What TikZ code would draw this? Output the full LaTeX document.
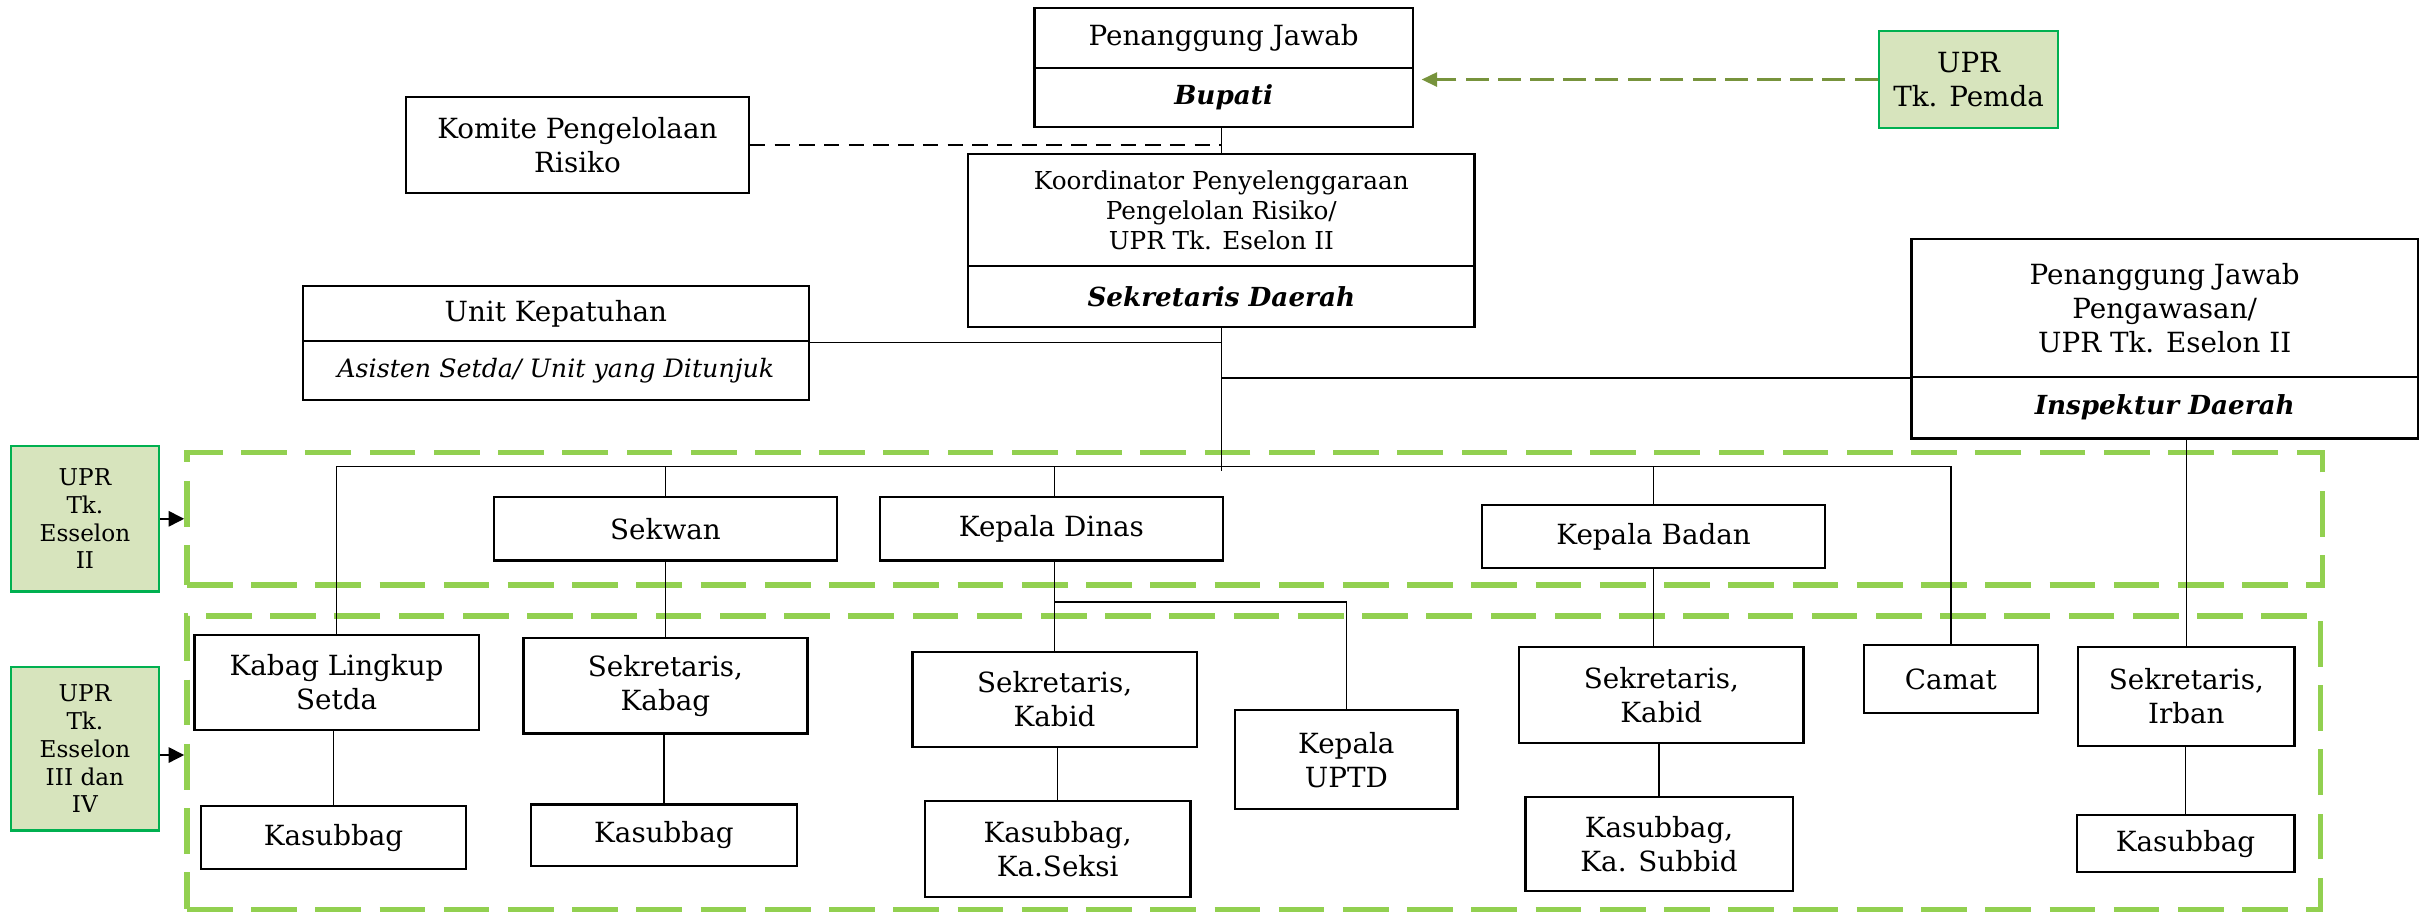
\documentclass[tikz,border=0pt]{standalone}
\usepackage{fontspec}
\setmainfont{DejaVu Serif}
\usetikzlibrary{arrows.meta}
\definecolor{uprfill}{HTML}{D7E4BD}
\definecolor{uprline}{HTML}{00B050}
\definecolor{zonegreen}{HTML}{92D050}
\definecolor{olivearrow}{HTML}{77933C}
\tikzset{
  box/.style={draw, line width=0.7pt, align=center, inner sep=0pt, font=\fontsize{9}{11}\selectfont},
  smalltxt/.style={font=\fontsize{8}{9.7}\selectfont},
  ittxt/.style={font=\fontsize{8.2}{10}\selectfont\itshape},
  bitxt/.style={font=\fontsize{8.5}{10}\selectfont\bfseries\itshape},
  uprbox/.style={draw=uprline, fill=uprfill, line width=0.8pt, align=center, inner sep=0pt, font=\fontsize{9}{10.8}\selectfont},
  uprsmall/.style={font=\fontsize{7.5}{9}\selectfont},
  zone/.style={draw=zonegreen, line width=1.75pt, dash pattern=on 14.8pt off 6pt, inner sep=0pt},
  conn/.style={line width=0.45pt},
  blackarrow/.style={line width=0.5pt, -{Triangle[length=5pt,width=5pt]}},
  olivedash/.style={draw=olivearrow, line width=0.9pt, dash pattern=on 7.5pt off 3pt, -{Triangle[length=5pt,width=4.5pt]}, shorten >=2.5pt},
  komitedash/.style={line width=0.6pt, dash pattern=on 5pt off 3pt}
}
\begin{document}
\begin{tikzpicture}[x=0.5pt, y=-0.5pt]
\useasboundingbox (0,0) rectangle (1568,591);

% zones
\node[zone, minimum width=691.5pt, minimum height=43pt] (z2) at (812.5,336) {};
\node[zone, minimum width=691pt, minimum height=95pt] (z3) at (812,494) {};

% top
\node[box, minimum width=122.5pt, minimum height=19.5pt] (pjT) at (792.5,24.5) {Penanggung Jawab};
\node[box, bitxt, minimum width=122.5pt, minimum height=19pt] (pjB) at (792.5,63) {Bupati};
\node[uprbox, minimum width=58pt, minimum height=31.5pt] (uprP) at (1275,51.5) {UPR\\Tk. Pemda};
\node[box, minimum width=111pt, minimum height=31pt] (komite) at (374,94) {Komite Pengelolaan\\Risiko};
\node[box, smalltxt, minimum width=164pt, minimum height=36pt] (koT) at (791,136) {Koordinator Penyelenggaraan\\Pengelolan Risiko/\\UPR Tk. Eselon II};
\node[box, bitxt, minimum width=164pt, minimum height=20pt] (koB) at (791,192) {Sekretaris Daerah};
\node[box, minimum width=164pt, minimum height=18pt] (ukT) at (360,203) {Unit Kepatuhan};
\node[box, ittxt, minimum width=164pt, minimum height=19pt] (ukB) at (360,240) {Asisten Setda/ Unit yang Ditunjuk};
\node[box, minimum width=164pt, minimum height=44.5pt] (pwT) at (1402,199.5) {Penanggung Jawab\\Pengawasan/\\UPR Tk. Eselon II};
\node[box, bitxt, minimum width=164pt, minimum height=20pt] (pwB) at (1402,264) {Inspektur Daerah};

% left labels
\node[uprbox, uprsmall, minimum width=48pt, minimum height=47pt] (upr2) at (55,336) {UPR\\Tk.\\Esselon\\II};
\node[uprbox, uprsmall, minimum width=48pt, minimum height=53pt] (upr3) at (55,485) {UPR\\Tk.\\Esselon\\III dan\\IV};

% row 2
\node[box, minimum width=111pt, minimum height=20.5pt] (sekwan) at (431,342.5) {Sekwan};
\node[box, minimum width=111pt, minimum height=20.5pt] (dinas) at (681,342.5) {Kepala Dinas};
\node[box, minimum width=111pt, minimum height=20.5pt] (badan) at (1071,347.5) {Kepala Badan};

% row 3
\node[box, minimum width=92pt, minimum height=31pt] (kabag) at (218,442) {Kabag Lingkup\\Setda};
\node[box, minimum width=92pt, minimum height=31pt] (sekkabag) at (431,444) {Sekretaris,\\Kabag};
\node[box, minimum width=92pt, minimum height=31pt] (sekkabidD) at (683,453) {Sekretaris,\\Kabid};
\node[box, minimum width=72pt, minimum height=32pt] (uptd) at (872,492) {Kepala\\UPTD};
\node[box, minimum width=92pt, minimum height=31pt] (sekkabidB) at (1076,450) {Sekretaris,\\Kabid};
\node[box, minimum width=56.5pt, minimum height=22pt] (camat) at (1263.5,440) {Camat};
\node[box, minimum width=70pt, minimum height=32pt] (irban) at (1416,451) {Sekretaris,\\Irban};

% row 4
\node[box, minimum width=86pt, minimum height=20.5pt] (ks1) at (216,542.5) {Kasubbag};
\node[box, minimum width=86pt, minimum height=20pt] (ks2) at (430,541) {Kasubbag};
\node[box, minimum width=86pt, minimum height=31pt] (ks3) at (685,550) {Kasubbag,\\Ka.Seksi};
\node[box, minimum width=86.5pt, minimum height=30.5pt] (ks4) at (1074.5,546.5) {Kasubbag,\\Ka. Subbid};
\node[box, minimum width=70.5pt, minimum height=18.5pt] (ks5) at (1415.5,546.5) {Kasubbag};

% helper coordinates
\coordinate (busY) at (0,302);
\coordinate (trunk) at (791,305);
\coordinate (uptdY) at (0,390);

% connectors
\draw[conn] (koT.north) -- (koT.north |- pjB.south);
\draw[komitedash] (komite.east) -- (komite.east -| koT.north);
\draw[conn] (koB.south) -- (trunk);
\draw[conn] (ukT.south east) -- (ukT.south east -| koB.south);
\draw[conn] (pwT.south west) -- (pwT.south west -| koB.south);
\draw[conn] (kabag.north |- busY) -- (camat.north |- busY);
\draw[conn] (kabag.north) -- (kabag.north |- busY);
\draw[conn] (sekwan.north) -- (sekwan.north |- busY);
\draw[conn] (sekkabidD.north |- dinas.north) -- (sekkabidD.north |- busY);
\draw[conn] (badan.north) -- (badan.north |- busY);
\draw[conn] (camat.north) -- (camat.north |- busY);
\draw[conn] (irban.north) -- (irban.north |- pwB.south);
\draw[conn] (sekkabag.north) -- (sekkabag.north |- sekwan.south);
\draw[conn] (sekkabidD.north) -- (sekkabidD.north |- dinas.south);
\draw[conn] (sekkabidD.north |- uptdY) -| (uptd.north);
\draw[conn] (badan.south) -- (badan.south |- sekkabidB.north);
\draw[conn] (ks1.north) -- (ks1.north |- kabag.south);
\draw[conn] (ks2.north) -- (ks2.north |- sekkabag.south);
\draw[conn] (ks3.north) -- (ks3.north |- sekkabidD.south);
\draw[conn] (ks4.north) -- (ks4.north |- sekkabidB.south);
\draw[conn] (ks5.north) -- (ks5.north |- irban.south);

% arrows
\draw[olivedash] (uprP.west) -- (uprP.west -| pjB.east);
\draw[blackarrow] (upr2.east) -- (upr2.east -| z2.west);
\draw[blackarrow] ([yshift=-2pt]upr3.east) -- ([yshift=-2pt]upr3.east -| z3.west);
\end{tikzpicture}
\end{document}
